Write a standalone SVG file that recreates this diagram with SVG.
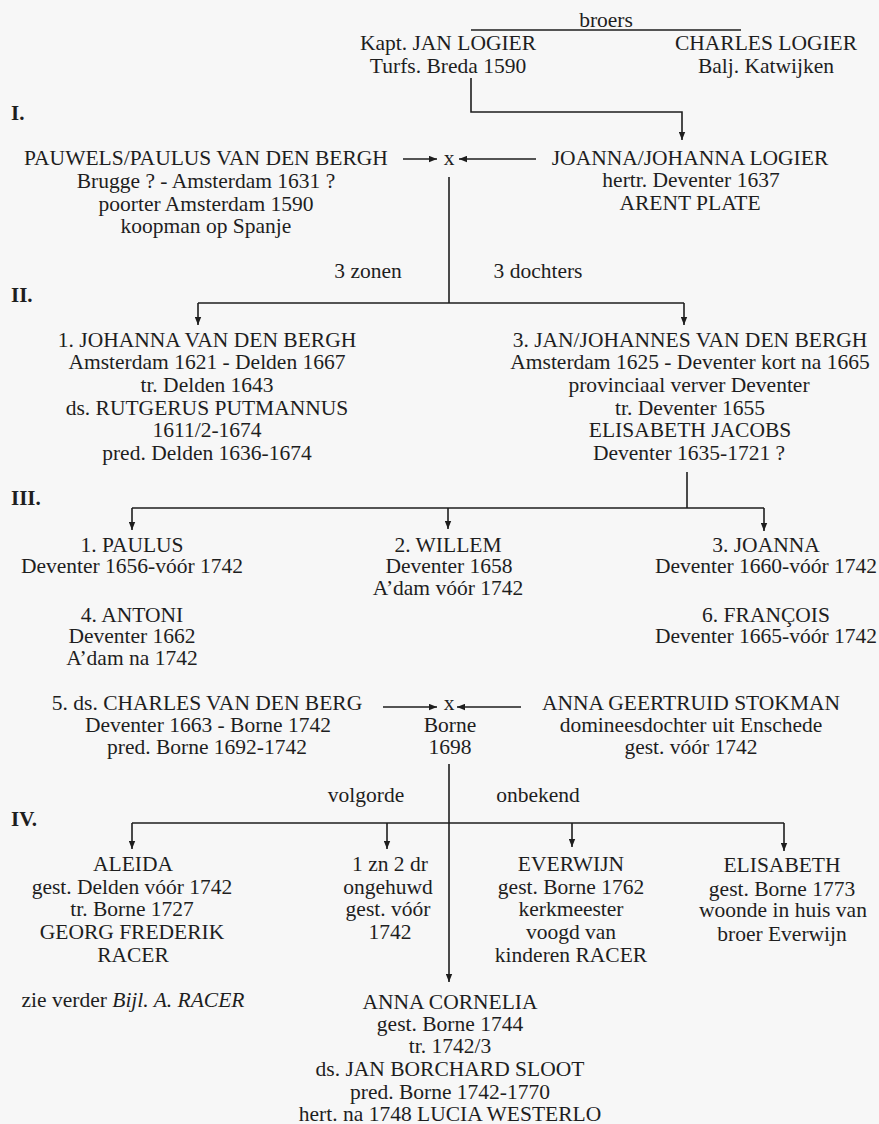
<svg xmlns="http://www.w3.org/2000/svg" width="879" height="1124" viewBox="0 0 879 1124" font-family="'Liberation Serif', 'Times New Roman', Tinos, 'DejaVu Serif', serif">
<defs>
<marker id="ah" viewBox="0 0 10 8" refX="10" refY="4" markerWidth="8" markerHeight="7" markerUnits="userSpaceOnUse" orient="auto">
<path d="M0,0 L10,4 L0,8 z" fill="#1e1e1e"/>
</marker>
</defs>
<style>
text{font-family:'Liberation Serif','Times New Roman',Tinos,'DejaVu Serif',serif;font-size:21.5px;fill:#1e1e1e;text-anchor:middle}
.gen{font-weight:bold;text-anchor:start;font-size:21px}
.ln{fill:none;stroke:#1e1e1e;stroke-width:1.6}
.ar{fill:none;stroke:#1e1e1e;stroke-width:1.6;marker-end:url(#ah)}
</style>
<rect width="879" height="1124" fill="#f7f7f7"/>

<g id="generations">
<text class="gen" x="11" y="120">I.</text>
<text class="gen" x="11" y="302">II.</text>
<text class="gen" x="11" y="505">III.</text>
<text class="gen" x="11" y="826">IV.</text>
</g>

<g id="connectors">
<path class="ln" d="M471,30 H741"/>
<path class="ar" d="M471,78 V112 H682 V140"/>
<path class="ar" d="M403,159 H437"/>
<path class="ar" d="M536,159 H459"/>
<path class="ln" d="M449,177 V303"/>
<path class="ln" d="M198,303 H684"/>
<path class="ar" d="M198,303 V325"/>
<path class="ar" d="M684,303 V325"/>
<path class="ln" d="M687,472 V508"/>
<path class="ln" d="M132,508 H764"/>
<path class="ar" d="M132,508 V530"/>
<path class="ar" d="M448,508 V529"/>
<path class="ar" d="M764,508 V531"/>
<path class="ar" d="M383,707 H437"/>
<path class="ar" d="M521,707 H457"/>
<path class="ar" d="M449,764 V982"/>
<path class="ln" d="M132,823 H784"/>
<path class="ar" d="M132,823 V849"/>
<path class="ar" d="M387,823 V849"/>
<path class="ar" d="M572,823 V847"/>
<path class="ar" d="M784,823 V851"/>
</g>

<g id="labels">
<text x="606" y="27">broers</text>
<text x="449" y="165">x</text>
<text x="368" y="278">3 zonen</text>
<text x="538" y="278">3 dochters</text>
<text x="449" y="710">x</text>
<text x="366" y="802">volgorde</text>
<text x="538" y="802">onbekend</text>
</g>

<g id="jan-logier">
<text x="448" y="50">Kapt. JAN LOGIER</text>
<text x="448" y="73">Turfs. Breda 1590</text>
</g>

<g id="charles-logier">
<text x="766" y="50">CHARLES LOGIER</text>
<text x="766" y="73">Balj. Katwijken</text>
</g>

<g id="pauwels">
<text x="206" y="165">PAUWELS/PAULUS VAN DEN BERGH</text>
<text x="206" y="188">Brugge ? - Amsterdam 1631 ?</text>
<text x="206" y="211">poorter Amsterdam 1590</text>
<text x="206" y="233">koopman op Spanje</text>
</g>

<g id="joanna-logier">
<text x="690" y="165">JOANNA/JOHANNA LOGIER</text>
<text x="691" y="187">hertr. Deventer 1637</text>
<text x="690" y="210">ARENT PLATE</text>
</g>

<g id="johanna">
<text x="207" y="347">1. JOHANNA VAN DEN BERGH</text>
<text x="207" y="369">Amsterdam 1621 - Delden 1667</text>
<text x="207" y="392">tr. Delden 1643</text>
<text x="207" y="415">ds. RUTGERUS PUTMANNUS</text>
<text x="207" y="437">1611/2-1674</text>
<text x="207" y="460">pred. Delden 1636-1674</text>
</g>

<g id="jan-johannes">
<text x="690" y="347">3. JAN/JOHANNES VAN DEN BERGH</text>
<text x="690" y="369">Amsterdam 1625 - Deventer kort na 1665</text>
<text x="689" y="392">provinciaal verver Deventer</text>
<text x="690" y="415">tr. Deventer 1655</text>
<text x="690" y="437">ELISABETH JACOBS</text>
<text x="689" y="460">Deventer 1635-1721 ?</text>
</g>

<g id="paulus">
<text x="132" y="552">1. PAULUS</text>
<text x="132" y="573">Deventer 1656-vóór 1742</text>
</g>

<g id="antoni">
<text x="132" y="622">4. ANTONI</text>
<text x="132" y="643">Deventer 1662</text>
<text x="132" y="665">A’dam na 1742</text>
</g>

<g id="willem">
<text x="448" y="552">2. WILLEM</text>
<text x="449" y="573">Deventer 1658</text>
<text x="448" y="595">A’dam vóór 1742</text>
</g>

<g id="joanna">
<text x="766" y="552">3. JOANNA</text>
<text x="766" y="573">Deventer 1660-vóór 1742</text>
</g>

<g id="francois">
<text x="766" y="622">6. FRANÇOIS</text>
<text x="766" y="643">Deventer 1665-vóór 1742</text>
</g>

<g id="charles">
<text x="207" y="710">5. ds. CHARLES VAN DEN BERG</text>
<text x="208" y="732">Deventer 1663 - Borne 1742</text>
<text x="207" y="754">pred. Borne 1692-1742</text>
</g>

<g id="marriage-borne">
<text x="450" y="732">Borne</text>
<text x="450" y="754">1698</text>
</g>

<g id="anna-geertruid">
<text x="691" y="710">ANNA GEERTRUID STOKMAN</text>
<text x="691" y="732">domineesdochter uit Enschede</text>
<text x="691" y="754">gest. vóór 1742</text>
</g>

<g id="aleida">
<text x="133" y="871">ALEIDA</text>
<text x="132" y="894">gest. Delden vóór 1742</text>
<text x="132" y="916">tr. Borne 1727</text>
<text x="132" y="939">GEORG FREDERIK</text>
<text x="133" y="962">RACER</text>
<text x="133" y="1007">zie verder <tspan font-style="italic">Bijl. A. RACER</tspan></text>
</g>

<g id="unmarried">
<text x="390" y="871">1 zn 2 dr</text>
<text x="388" y="894">ongehuwd</text>
<text x="388" y="916">gest. vóór</text>
<text x="390" y="939">1742</text>
</g>

<g id="everwijn">
<text x="571" y="871">EVERWIJN</text>
<text x="571" y="894">gest. Borne 1762</text>
<text x="571" y="916">kerkmeester</text>
<text x="571" y="939">voogd van</text>
<text x="571" y="962">kinderen RACER</text>
</g>

<g id="elisabeth">
<text x="782" y="872">ELISABETH</text>
<text x="782" y="896">gest. Borne 1773</text>
<text x="783" y="917">woonde in huis van</text>
<text x="782" y="941">broer Everwijn</text>
</g>

<g id="anna-cornelia">
<text x="450" y="1009">ANNA CORNELIA</text>
<text x="450" y="1031">gest. Borne 1744</text>
<text x="450" y="1053">tr. 1742/3</text>
<text x="450" y="1076">ds. JAN BORCHARD SLOOT</text>
<text x="450" y="1099">pred. Borne 1742-1770</text>
<text x="450" y="1121">hert. na 1748 LUCIA WESTERLO</text>
</g>
</svg>
